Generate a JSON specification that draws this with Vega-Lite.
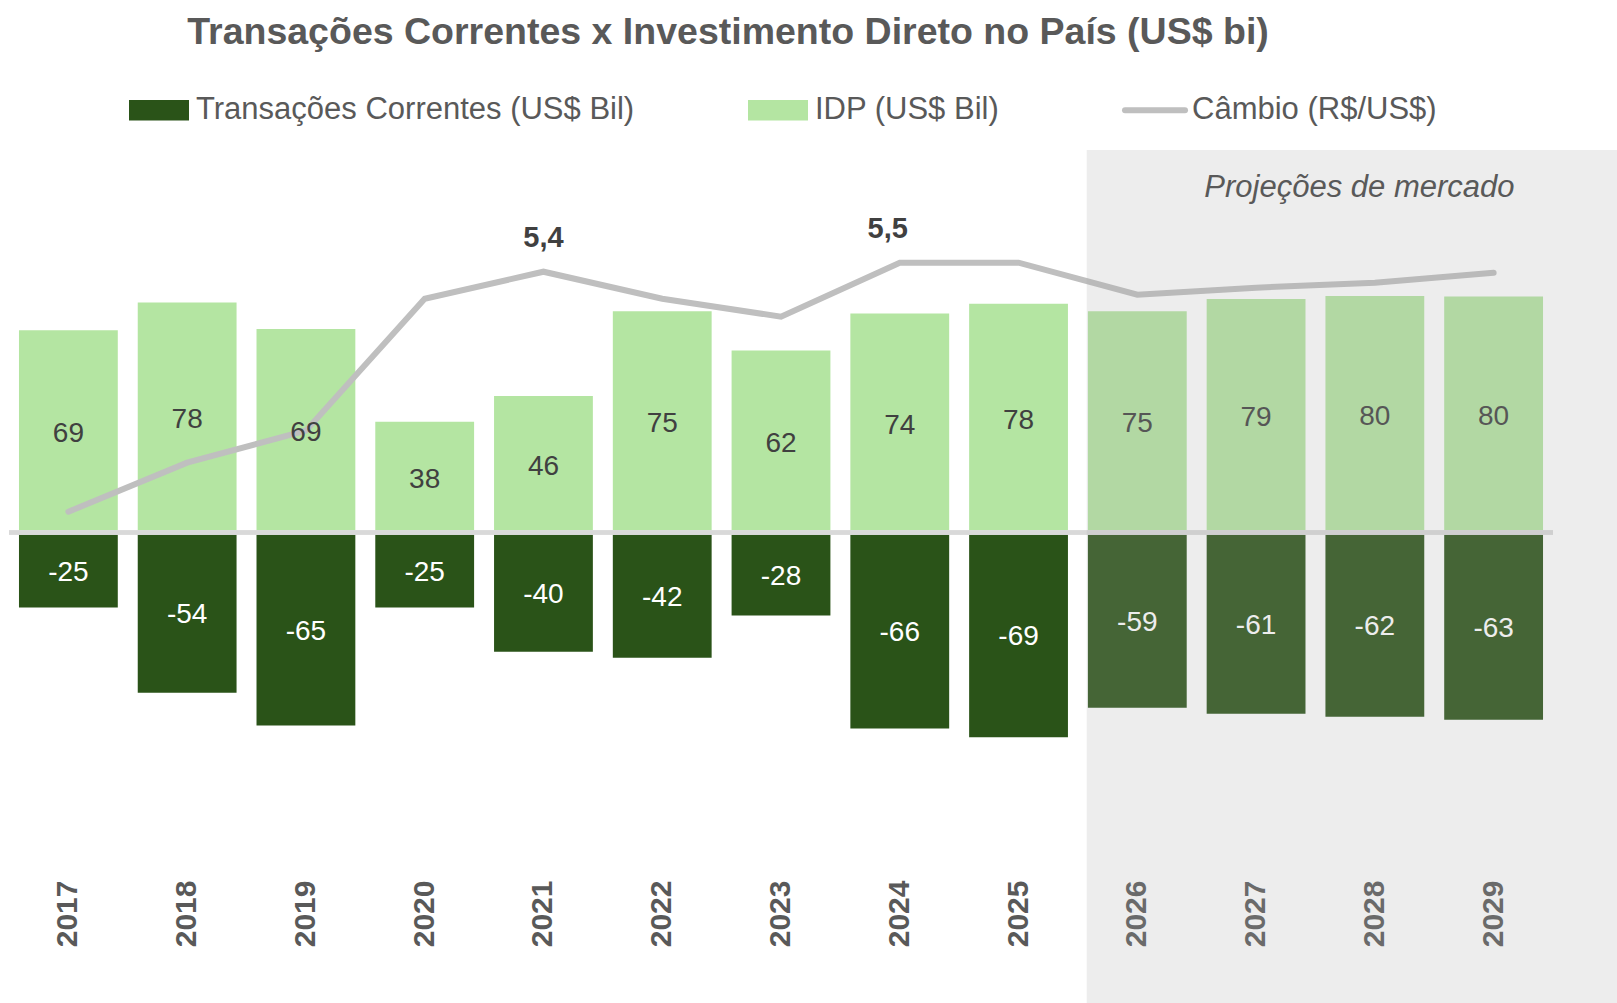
{
  "$schema": "https://vega.github.io/schema/vega-lite/v6.json",
  "width": 1544,
  "height": 853,
  "autosize": {"type": "none"},
  "padding": {"left": 9, "top": 150, "right": 64, "bottom": 0},
  "background": "#ffffff",
  "title": {
    "text": "Transações Correntes x Investimento Direto no País (US$ bi)",
    "anchor": "middle",
    "frame": "group",
    "dx": -53,
    "offset": 43,
    "font": "Liberation Sans",
    "fontSize": 37.5,
    "fontWeight": "bold",
    "color": "#595959"
  },
  "config": {
    "view": {"stroke": null},
    "locale": {"number": {"decimal": ",", "thousands": ".", "grouping": [3], "currency": ["R$", ""], "minus": "-"}}
  },
  "data": {
    "values": [
      {"ano": "2017", "tc": -25.4, "idp": 68.6, "cambio": 3.00},
      {"ano": "2018", "tc": -54.3, "idp": 78.0, "cambio": 3.49},
      {"ano": "2019", "tc": -65.4, "idp": 69.0, "cambio": 3.81},
      {"ano": "2020", "tc": -25.4, "idp": 37.6, "cambio": 5.13},
      {"ano": "2021", "tc": -40.4, "idp": 46.3, "cambio": 5.40},
      {"ano": "2022", "tc": -42.4, "idp": 75.0, "cambio": 5.13},
      {"ano": "2023", "tc": -28.1, "idp": 61.7, "cambio": 4.95},
      {"ano": "2024", "tc": -66.4, "idp": 74.3, "cambio": 5.49},
      {"ano": "2025", "tc": -69.4, "idp": 77.6, "cambio": 5.49},
      {"ano": "2026", "tc": -59.4, "idp": 75.0, "cambio": 5.17},
      {"ano": "2027", "tc": -61.4, "idp": 79.2, "cambio": 5.24},
      {"ano": "2028", "tc": -62.4, "idp": 80.2, "cambio": 5.29},
      {"ano": "2029", "tc": -63.4, "idp": 80.0, "cambio": 5.39}
    ]
  },
  "resolve": {"scale": {"x": "independent", "y": "independent"}},
  "layer": [
    {
      "mark": {"type": "bar"},
      "encoding": {
        "x": {
          "field": "ano", "type": "ordinal",
          "scale": {"domain": ["2017","2018","2019","2020","2021","2022","2023","2024","2025","2026","2027","2028","2029"], "paddingInner": 0.168, "paddingOuter": 0.084},
          "axis": {"orient": "bottom", "offset": -123, "labelAngle": -90, "labelAlign": "right", "labelBaseline": "middle", "labelPadding": 0, "ticks": false, "tickSize": 0, "domain": false, "grid": false, "title": null, "labelFont": "Liberation Sans", "labelFontSize": 30, "labelFontWeight": "bold", "labelColor": "#595959"}
        },
        "y": {"field": "idp", "type": "quantitative", "scale": {"domain": [-159.46, 129.7], "nice": false, "zero": false}, "axis": null},
        "color": {
          "datum": "IDP (US$ Bil)",
          "scale": {"domain": ["Transações Correntes (US$ Bil)", "IDP (US$ Bil)", "Câmbio (R$/US$)"], "range": ["#2a5318", "#b4e5a2", "#bfbfbf"]},
          "legend": {
            "orient": "none", "legendX": 120, "legendY": -55.5, "direction": "horizontal", "title": null,
            "symbolType": "M-1,-0.34H1V0.34H-1Z", "symbolSize": 3600, "symbolStrokeWidth": 0, "symbolOffset": 14.5,
            "labelFont": "Liberation Sans", "labelFontSize": 31, "labelColor": "#595959", "labelLimit": 1000, "labelOffset": 21.5,
            "columnPadding": 113, "padding": 0, "symbolOpacity": 1,
            "encode": {
              "symbols": {
                "update": {
                  "shape": {"signal": "datum.value === 'Câmbio (R$/US$)' ? 'M-1,0H1' : 'M-1,-0.34H1V0.34H-1Z'"},
                  "fill": {"signal": "datum.value === 'Câmbio (R$/US$)' ? 'transparent' : scale('color', datum.value)"},
                  "stroke": {"signal": "datum.value === 'Câmbio (R$/US$)' ? scale('color', datum.value) : 'transparent'"},
                  "strokeWidth": {"signal": "datum.value === 'Câmbio (R$/US$)' ? 6 : 0"},
                  "strokeCap": {"value": "round"}
                }
              }
            }
          }
        }
      }
    },
    {
      "mark": {"type": "bar"},
      "encoding": {
        "x": {"field": "ano", "type": "ordinal", "scale": {"domain": ["2017","2018","2019","2020","2021","2022","2023","2024","2025","2026","2027","2028","2029"], "paddingInner": 0.168, "paddingOuter": 0.084}, "axis": null},
        "y": {"field": "tc", "type": "quantitative", "scale": {"domain": [-159.46, 129.7], "nice": false, "zero": false}, "axis": null},
        "color": {"datum": "Transações Correntes (US$ Bil)"}
      }
    },
    {
      "mark": {"type": "rule", "color": "#d9d9d9", "strokeWidth": 3.5},
      "encoding": {
        "y": {"datum": 0, "type": "quantitative", "scale": {"domain": [-159.46, 129.7], "nice": false, "zero": false}, "axis": null}
      }
    },
    {
      "mark": {"type": "line", "strokeWidth": 6, "strokeCap": "round"},
      "encoding": {
        "x": {"field": "ano", "type": "ordinal", "scale": {"domain": ["2017","2018","2019","2020","2021","2022","2023","2024","2025","2026","2027","2028","2029"], "paddingInner": 0.168, "paddingOuter": 0.084}, "axis": null},
        "y": {"field": "cambio", "type": "quantitative", "scale": {"domain": [-1.913, 6.617], "nice": false, "zero": false}, "axis": null},
        "color": {"datum": "Câmbio (R$/US$)"}
      }
    },
    {
      "mark": {"type": "text", "font": "Liberation Sans", "fontSize": 28, "color": "#404040", "baseline": "middle", "dy": 2.5},
      "encoding": {
        "x": {"field": "ano", "type": "ordinal", "scale": {"domain": ["2017","2018","2019","2020","2021","2022","2023","2024","2025","2026","2027","2028","2029"], "paddingInner": 0.168, "paddingOuter": 0.084}, "axis": null},
        "y": {"field": "idp", "type": "quantitative", "scale": {"domain": [-318.92, 259.4], "nice": false, "zero": false}, "axis": null},
        "text": {"field": "idp", "type": "quantitative", "format": ".0f"}
      }
    },
    {
      "mark": {"type": "text", "font": "Liberation Sans", "fontSize": 28, "color": "#ffffff", "baseline": "middle", "dy": 2.5},
      "encoding": {
        "x": {"field": "ano", "type": "ordinal", "scale": {"domain": ["2017","2018","2019","2020","2021","2022","2023","2024","2025","2026","2027","2028","2029"], "paddingInner": 0.168, "paddingOuter": 0.084}, "axis": null},
        "y": {"field": "tc", "type": "quantitative", "scale": {"domain": [-318.92, 259.4], "nice": false, "zero": false}, "axis": null},
        "text": {"field": "tc", "type": "quantitative", "format": ".0f"}
      }
    },
    {
      "transform": [{"filter": "datum.ano == '2021'"}],
      "mark": {"type": "text", "font": "Liberation Sans", "fontSize": 29, "fontWeight": "bold", "color": "#404040", "baseline": "alphabetic", "dy": -24.5},
      "encoding": {
        "x": {"field": "ano", "type": "ordinal", "scale": {"domain": ["2017","2018","2019","2020","2021","2022","2023","2024","2025","2026","2027","2028","2029"], "paddingInner": 0.168, "paddingOuter": 0.084}, "axis": null},
        "y": {"field": "cambio", "type": "quantitative", "scale": {"domain": [-1.913, 6.617], "nice": false, "zero": false}, "axis": null},
        "text": {"field": "cambio", "type": "quantitative", "format": ".1f"}
      }
    },
    {
      "transform": [{"filter": "datum.ano == '2024'"}],
      "mark": {"type": "text", "font": "Liberation Sans", "fontSize": 29, "fontWeight": "bold", "color": "#404040", "baseline": "alphabetic", "dy": -24.5, "dx": -12},
      "encoding": {
        "x": {"field": "ano", "type": "ordinal", "scale": {"domain": ["2017","2018","2019","2020","2021","2022","2023","2024","2025","2026","2027","2028","2029"], "paddingInner": 0.168, "paddingOuter": 0.084}, "axis": null},
        "y": {"field": "cambio", "type": "quantitative", "scale": {"domain": [-1.913, 6.617], "nice": false, "zero": false}, "axis": null},
        "text": {"field": "cambio", "type": "quantitative", "format": ".1f"}
      }
    },
    {
      "data": {"values": [{"periodo": "Projeções de mercado"}]},
      "layer": [
        {
          "mark": {"type": "rect", "fill": "#aaaaaa", "opacity": 0.21},
          "encoding": {
            "x": {"datum": 2025.574, "type": "quantitative", "scale": {"domain": [2016.5, 2029.5], "nice": false, "zero": false}, "axis": null},
            "x2": {"datum": 2030.04}
          }
        },
        {
          "mark": {"type": "text", "font": "Liberation Sans", "fontSize": 31, "fontStyle": "italic", "color": "#595959", "baseline": "alphabetic", "align": "center"},
          "encoding": {
            "x": {"datum": 2027.87, "type": "quantitative", "scale": {"domain": [2016.5, 2029.5], "nice": false, "zero": false}, "axis": null},
            "y": {"datum": 113.8, "type": "quantitative", "scale": {"domain": [-159.46, 129.7], "nice": false, "zero": false}, "axis": null},
            "text": {"field": "periodo"}
          }
        }
      ]
    }
  ]
}
